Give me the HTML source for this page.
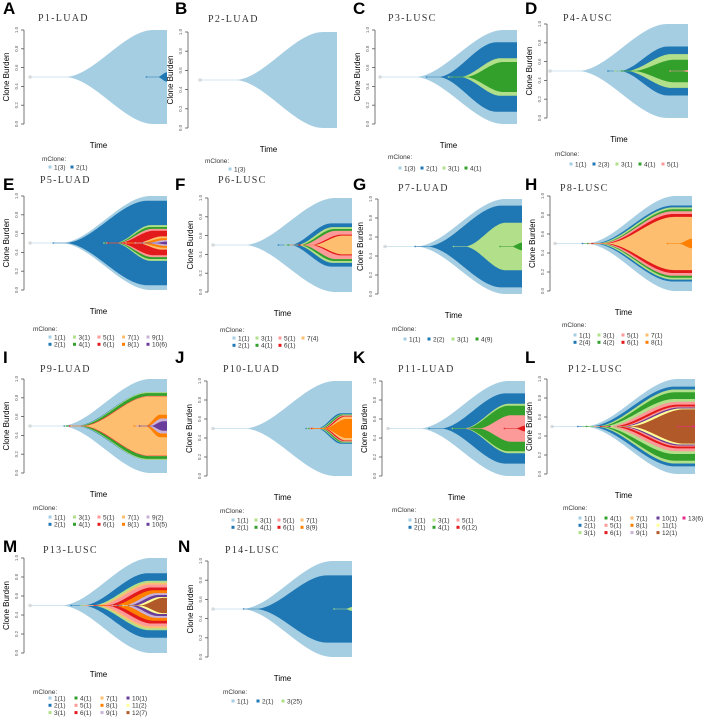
<!DOCTYPE html>
<html><head><meta charset="utf-8"><style>
html,body{margin:0;padding:0;background:#fff;}
svg{display:block;font-family:"Liberation Sans",sans-serif;}
</style></head><body>
<svg id="fig" width="708" height="718" viewBox="0 0 708 718"></svg>
<script>
// ---- clone colours (index = clone id) ----
const cloneColors = ["#000","#a6cee3","#1f78b4","#b2df8a","#33a02c","#fb9a99","#e31a1c","#fdbf6f","#ff7f00","#cab2d6","#6a3d9a","#ffff99","#b15928","#e7298a"];
const yTicks = [0,0.2,0.4,0.6,0.8,1.0];
const yTickLabels = ["0.0","0.2","0.4","0.6","0.8","1.0"];

// ---- per-panel data: layer clone ids, final burden width, growth start, growth end ----
const A_ids=[1,2];           const A_w=[1.0,0.10]; const A_s=[0.25,0.93]; const A_e=[0.9,1.0];
const B_ids=[1];             const B_w=[1.0];      const B_s=[0.25];      const B_e=[0.9];
const C_ids=[1,2,3,4];       const C_w=[1.0,0.74,0.40,0.32]; const C_s=[0.25,0.42,0.58,0.62]; const C_e=[0.9,0.85,0.88,0.9];
const D_ids=[1,2,3,4,5];     const D_w=[1.0,0.52,0.36,0.24,0.02]; const D_s=[0.2,0.5,0.55,0.6,0.95]; const D_e=[0.85,0.85,0.88,0.9,1.0];
const E_ids=[1,2,3,4,5,6,7,8,9,10]; const E_w=[1.0,0.90,0.38,0.34,0.30,0.26,0.14,0.10,0.06,0.03]; const E_s=[0.22,0.25,0.62,0.63,0.64,0.65,0.78,0.8,0.85,0.9]; const E_e=[0.88,0.86,0.88,0.88,0.89,0.9,0.96,0.97,0.98,1.0];
const F_ids=[1,2,3,4,5,6,7]; const F_w=[1.0,0.46,0.38,0.34,0.30,0.22,0.20]; const F_s=[0.22,0.55,0.6,0.62,0.64,0.7,0.72]; const F_e=[0.88,0.85,0.86,0.87,0.88,0.92,0.93];
const G_ids=[1,2,3,4];       const G_w=[1.0,0.86,0.50,0.08]; const G_s=[0.22,0.3,0.58,0.92]; const G_e=[0.88,0.85,0.88,1.0];
const H_ids=[1,2,3,4,5,6,7,8]; const H_w=[1.0,0.80,0.76,0.72,0.68,0.62,0.56,0.10]; const H_s=[0.22,0.28,0.3,0.32,0.33,0.35,0.37,0.9]; const H_e=[0.88,0.86,0.86,0.86,0.86,0.86,0.87,1.0];
const I_ids=[1,2,3,4,5,6,7,8,9,10]; const I_w=[1.0,0.72,0.72,0.70,0.64,0.635,0.63,0.24,0.16,0.10]; const I_s=[0.22,0.33,0.34,0.35,0.37,0.37,0.38,0.84,0.86,0.88]; const I_e=[0.88,0.86,0.86,0.86,0.87,0.87,0.87,0.95,0.96,0.97];
const J_ids=[1,2,3,4,5,6,7,8]; const J_w=[1.0,0.32,0.30,0.29,0.28,0.26,0.25,0.20]; const J_s=[0.22,0.75,0.76,0.77,0.78,0.79,0.8,0.8]; const J_e=[0.88,0.92,0.93,0.93,0.94,0.94,0.95,0.96];
const K_ids=[1,2,3,4,5,6];   const K_w=[1.0,0.74,0.52,0.48,0.28,0.06]; const K_s=[0.22,0.38,0.55,0.56,0.66,0.93]; const K_e=[0.88,0.86,0.88,0.88,0.9,1.0];
const L_ids=[1,2,3,4,3,5,6,5,10,11,12,13]; const L_w=[1.0,0.84,0.78,0.72,0.58,0.52,0.46,0.42,0.40,0.38,0.36,0.02]; const L_s=[0.22,0.26,0.3,0.32,0.34,0.38,0.42,0.46,0.48,0.5,0.54,0.96]; const L_e=[0.88,0.86,0.86,0.86,0.86,0.87,0.88,0.88,0.89,0.9,0.92,1.0];
const M_ids=[1,2,3,7,5,6,8,9,10,11,12]; const M_w=[1.0,0.68,0.52,0.48,0.44,0.38,0.32,0.26,0.22,0.18,0.16]; const M_s=[0.22,0.38,0.45,0.47,0.5,0.55,0.6,0.68,0.72,0.76,0.8]; const M_e=[0.88,0.86,0.87,0.88,0.88,0.89,0.9,0.92,0.93,0.95,0.97];
const N_ids=[1,2,3];         const N_w=[1.0,0.70,0.04]; const N_s=[0.2,0.3,0.95]; const N_e=[0.86,0.82,1.0];

// ---- legend labels (column-major order) ----
const A_leg=["1(3)","2(1)"]; const B_leg=["1(3)"]; const C_leg=["1(3)","2(1)","3(1)","4(1)"];
const D_leg=["1(1)","2(3)","3(1)","4(1)","5(1)"];
const E_leg=["1(1)","2(1)","3(1)","4(1)","5(1)","6(1)","7(1)","8(1)","9(1)","10(6)"];
const F_leg=["1(1)","2(1)","3(1)","4(1)","5(1)","6(1)","7(4)"];
const G_leg=["1(1)","2(2)","3(1)","4(9)"];
const H_leg=["1(1)","2(4)","3(1)","4(2)","5(1)","6(1)","7(1)","8(1)"];
const I_leg=["1(1)","2(1)","3(1)","4(1)","5(1)","6(1)","7(1)","8(1)","9(2)","10(5)"];
const J_leg=["1(1)","2(1)","3(1)","4(1)","5(1)","6(1)","7(1)","8(9)"];
const K_leg=["1(1)","2(1)","3(1)","4(1)","5(1)","6(12)"];
const L_leg=["1(1)","2(1)","3(1)","4(1)","5(1)","6(1)","7(1)","8(1)","9(1)","10(1)","11(1)","12(1)","13(6)"];
const M_leg=["1(1)","2(1)","3(1)","4(1)","5(1)","6(1)","7(1)","8(1)","9(1)","10(1)","11(2)","12(7)"];
const N_leg=["1(1)","2(1)","3(25)"];

// ---- layout ----
const panels=[
 {L:"A",t:"P1-LUAD",ids:A_ids,w:A_w,s:A_s,e:A_e,leg:A_leg,ax:24,x0:30,x1:167,y0:30,y1:124,lx:[3,14],tx:[38,21],mg:[42,159],lg:[50,167],rows:1,sp:22},
 {L:"B",t:"P2-LUAD",ids:B_ids,w:B_w,s:B_s,e:B_e,leg:B_leg,ax:188,x0:200,x1:337,y0:32,y1:128,lx:[175,14],tx:[208,22],mg:[205,161],lg:[230,169],rows:1,sp:22},
 {L:"C",t:"P3-LUSC",ids:C_ids,w:C_w,s:C_s,e:C_e,leg:C_leg,ax:375,x0:380,x1:517,y0:30,y1:124,lx:[353,14],tx:[388,21],mg:[388,157],lg:[400,168],rows:1,sp:22},
 {L:"D",t:"P4-AUSC",ids:D_ids,w:D_w,s:D_s,e:D_e,leg:D_leg,ax:547,x0:550,x1:688,y0:24,y1:118,lx:[525,14],tx:[563,21],mg:[555,154],lg:[571,164],rows:1,sp:23},
 {L:"E",t:"P5-LUAD",ids:E_ids,w:E_w,s:E_s,e:E_e,leg:E_leg,ax:24,x0:30,x1:167,y0:196,y1:290,lx:[3,190],tx:[40,183],mg:[33,329],lg:[50,337],rows:2,sp:24.5},
 {L:"F",t:"P6-LUSC",ids:F_ids,w:F_w,s:F_s,e:F_e,leg:F_leg,ax:208,x0:213,x1:352,y0:198,y1:292,lx:[175,190],tx:[218,183],mg:[220,330],lg:[234,338],rows:2,sp:23},
 {L:"G",t:"P7-LUAD",ids:G_ids,w:G_w,s:G_s,e:G_e,leg:G_leg,ax:378,x0:385,x1:522,y0:199,y1:294,lx:[353,190],tx:[398,191],mg:[392,329],lg:[405,339],rows:1,sp:24},
 {L:"H",t:"P8-LUSC",ids:H_ids,w:H_w,s:H_s,e:H_e,leg:H_leg,ax:550,x0:555,x1:692,y0:196,y1:291,lx:[525,190],tx:[560,191],mg:[562,325],lg:[575,335],rows:2,sp:24},
 {L:"I",t:"P9-LUAD",ids:I_ids,w:I_w,s:I_s,e:I_e,leg:I_leg,ax:24,x0:30,x1:167,y0:379,y1:473,lx:[3,363],tx:[40,372],mg:[33,508],lg:[50,517],rows:2,sp:24.5},
 {L:"J",t:"P10-LUAD",ids:J_ids,w:J_w,s:J_s,e:J_e,leg:J_leg,ax:207,x0:213,x1:352,y0:381,y1:476,lx:[175,363],tx:[223,372],mg:[220,511],lg:[233,520],rows:2,sp:23},
 {L:"K",t:"P11-LUAD",ids:K_ids,w:K_w,s:K_s,e:K_e,leg:K_leg,ax:382,x0:388,x1:525,y0:381,y1:476,lx:[353,363],tx:[398,372],mg:[392,510],lg:[410,520],rows:2,sp:24},
 {L:"L",t:"P12-LUSC",ids:L_ids,w:L_w,s:L_s,e:L_e,leg:L_leg,ax:547,x0:552,x1:695,y0:379,y1:474,lx:[525,363],tx:[568,372],mg:[563,508],lg:[580,518],rows:3,sp:26},
 {L:"M",t:"P13-LUSC",ids:M_ids,w:M_w,s:M_s,e:M_e,leg:M_leg,ax:24,x0:30,x1:167,y0:558,y1:653,lx:[3,552],tx:[43,553],mg:[33,692],lg:[50,698],rows:3,sp:26},
 {L:"N",t:"P14-LUSC",ids:N_ids,w:N_w,s:N_s,e:N_e,leg:N_leg,ax:208,x0:213,x1:352,y0:561,y1:657,lx:[178,552],tx:[225,553],mg:[223,692],lg:[233,701],rows:1,sp:25}
];

const NS="http://www.w3.org/2000/svg";
const svg=document.getElementById('fig');
function el(tag,attrs,parent,text){const e=document.createElementNS(NS,tag);for(const k in attrs)e.setAttribute(k,attrs[k]);if(text!==undefined)e.textContent=text;(parent||svg).appendChild(e);return e;}
function smooth(u){u=Math.max(0,Math.min(1,u));return u*u*(3-2*u);}

panels.forEach(p=>{
  const g=el('g',{});
  
  
  const xS=t=>p.x0+t*(p.x1-p.x0);
  const yS=v=>p.y1-v*(p.y1-p.y0);
  const mid=yS(0.5);
  const lt=el('text',{x:p.lx[0],y:p.lx[1],'font-size':17,'font-weight':'bold',fill:'#000'},g,p.L);
  
  
  const tt=el('text',{x:p.tx[0],y:p.tx[1],'font-size':10,'letter-spacing':1.3,fill:'#333','font-family':'"Liberation Serif",serif'},g,p.t);
  
  
  const dot=el('circle',{cx:p.x0,cy:mid,r:1.8,fill:'#ddd'},g);
  
  
  p.ids.forEach((id,i)=>{
    const W=p.w[i],ts=p.s[i],te=p.e[i];
    const lead=i===0?0:Math.max(0,ts-0.08);
    const N=60,top=[],bot=[];
    for(let k=0;k<=N;k++){
      const t=lead+(1-lead)*k/N;
      const h=Math.max(W/2*smooth((t-ts)/(te-ts)),0.002);
      top.push(xS(t).toFixed(2)+','+(yS(0.5+h)).toFixed(2));
      bot.push(xS(t).toFixed(2)+','+(yS(0.5-h)).toFixed(2));
    }
    const d='M'+top.join(' L')+' L'+bot.reverse().join(' L')+' Z';
    const path=el('path',{d:d,fill:cloneColors[id],stroke:'none'},g);
    
    
    if(i>0){const sd=el('circle',{cx:xS(lead),cy:mid,r:0.9,fill:cloneColors[id],opacity:0.7},g);
      
      }
  });
  const ax=el('line',{x1:p.ax,x2:p.ax,y1:yS(0),y2:yS(1),stroke:'#555','stroke-width':0.8},g);
  
  
  yTicks.forEach((v,i)=>{
    el('line',{x1:p.ax-3,x2:p.ax,y1:yS(v),y2:yS(v),stroke:'#555','stroke-width':0.8},g);
    const tl=el('text',{x:0,y:0,'font-size':4.5,fill:'#666','text-anchor':'middle',transform:`translate(${p.ax-6},${yS(v)}) rotate(-90)`},g,yTickLabels[i]);
    
    
  });
  const yl=el('text',{x:0,y:0,'font-size':8,fill:'#000','text-anchor':'middle',transform:`translate(${p.ax-15},${mid}) rotate(-90)`},g,'Clone Burden');
  
  
  const xl=el('text',{x:(p.x0+p.x1)/2,y:p.y1+24,'font-size':8,fill:'#000','text-anchor':'middle'},g,'Time');
  
  
  const mg=el('text',{x:p.mg[0],y:p.mg[1]+2,'font-size':6.5,fill:'#333'},g,'mClone:');
  
  
  p.leg.forEach((lab,i)=>{
    const col=Math.floor(i/p.rows),row=i%p.rows;
    const x=p.lg[0]+col*p.sp,y=p.lg[1]+row*7.3;
    const id=parseInt(lab);
    const lg=el('g',{},g);
    
    
    el('rect',{x:x-1.5,y:y-1.5,width:3,height:3,fill:cloneColors[id]},lg);
    el('text',{x:x+4,y:y+2.4,'font-size':6.5,fill:'#333'},lg,lab);
  });
});
</script>
</body></html>
